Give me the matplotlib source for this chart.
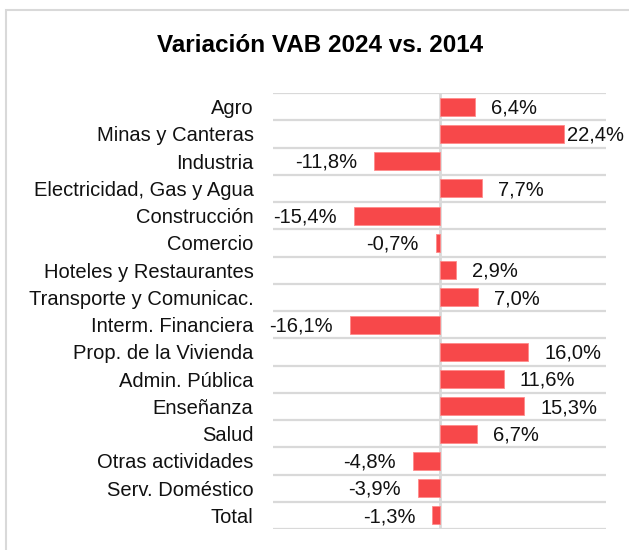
import matplotlib.pyplot as plt
from matplotlib.patches import Rectangle

categories = ['Agro', 'Minas y Canteras', 'Industria', 'Electricidad, Gas y Agua',
              'Construcción', 'Comercio', 'Hoteles y Restaurantes',
              'Transporte y Comunicac.', 'Interm. Financiera', 'Prop. de la Vivienda',
              'Admin. Pública', 'Enseñanza', 'Salud', 'Otras actividades',
              'Serv. Doméstico', 'Total']
variacion = [6.4, 22.4, -11.8, 7.7, -15.4, -0.7, 2.9, 7.0, -16.1, 16.0,
             11.6, 15.3, 6.7, -4.8, -3.9, -1.3]

bar_color = '#F7484A'
grid_color = '#D9D9D9'

plt.rcParams['font.family'] = ['Liberation Sans', 'DejaVu Sans']

fig = plt.figure(figsize=(6.29, 5.5), dpi=100)
ax = fig.add_axes([273 / 629, 1 - 529 / 550, 333 / 629, 436 / 550])

n = len(categories)
ypos = list(range(n))
ax.barh(ypos, variacion, height=0.66, color=bar_color,
        edgecolor='#FF8A8A', linewidth=0.6, zorder=3)

ax.set_xlim(-30, 30)
ax.set_ylim(n - 0.5, -0.5)

# separators between categories
for b in range(n + 1):
    ax.axhline(b - 0.5, color=grid_color, linewidth=1.6, zorder=1)
ax.axvline(0, color=grid_color, linewidth=2, zorder=2)

for s in ax.spines.values():
    s.set_visible(False)
ax.set_xticks([])
ax.set_yticks(ypos)
ax.set_yticklabels(categories, fontsize=14.5, color='#111111')
ax.tick_params(axis='y', length=0, pad=14)

for y, v in zip(ypos, variacion):
    txt = f'{v:.1f}%'.replace('.', ',')
    if v >= 0:
        ax.text(min(v + 2.9, 22.9), y + 0.05, txt, ha='left', va='center',
                fontsize=14.5, color='#111111', zorder=4)
    else:
        ax.text(v - 3.05, y + 0.05, txt, ha='right', va='center',
                fontsize=14.5, color='#111111', zorder=4)

fig.text(320 / 629, 1 - 46 / 550, 'Variación VAB 2024 vs. 2014',
         ha='center', va='center', fontsize=17.5, fontweight='bold',
         family=['Liberation Sans Narrow', 'Liberation Sans', 'DejaVu Sans'])

fig.patches.append(Rectangle((6 / 629, -0.1), 1.2, 1.1 - 9.5 / 550,
                             transform=fig.transFigure, fill=False,
                             edgecolor=grid_color, linewidth=1.5))

fig.savefig('out.png', dpi=100)
